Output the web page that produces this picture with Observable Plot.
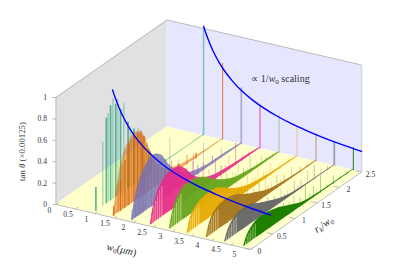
<!DOCTYPE html>
<html><head><meta charset="utf-8">
<script src="https://cdn.jsdelivr.net/npm/d3@7"></script>
<script src="https://cdn.jsdelivr.net/npm/@observablehq/plot@0.6"></script>
<style>html,body{margin:0;padding:0;background:#fff}svg{display:block}</style>
</head><body><div id="c"></div>
<script>
// ---- data
const w0Values=[0.94,1.43,1.91,2.39,2.88,3.34,3.83,4.3,4.79];
const wallTops=[1.0,0.72,0.53,0.395,0.36,0.288,0.26,0.225,0.213];
const curveW=[0.94,1,1.1,1.2,1.35,1.5,1.7,1.9,2.2,2.5,2.8,3.2,3.6,4,4.5,5];
const curveZ=[1.02,0.96,0.873,0.8,0.711,0.64,0.565,0.505,0.436,0.384,0.343,0.3,0.267,0.24,0.213,0.192];
const envR=[0.03,0.1,0.2,0.3,0.4,0.55,0.7,0.85,1,1.15,1.3,1.5,1.75,2,2.25,2.5];
const env1=[null,null,null,null,null,null,null,null,null,null,null,0.012,0.012,0.01,0.01,0.008];
const env2=[0,0.2,0.42,0.54,0.6,0.64,0.58,0.4,0.22,0.13,0.08,0.05,0.03,0.02,0.015,0.01];
const env3=[0,0.18,0.32,0.4,0.45,0.47,0.42,0.3,0.2,0.13,0.08,0.05,0.03,0.025,0.02,0.012];
const env4=[0,0.16,0.27,0.33,0.36,0.37,0.35,0.28,0.18,0.12,0.08,0.05,0.035,0.025,0.02,0.012];
const env5=[0,0.14,0.24,0.29,0.31,0.31,0.29,0.25,0.19,0.14,0.1,0.06,0.04,0.025,0.02,0.012];
const env6=[0,0.13,0.19,0.22,0.235,0.24,0.23,0.19,0.14,0.1,0.07,0.045,0.03,0.02,0.015,0.01];
const env7=[0,0.12,0.19,0.22,0.23,0.23,0.21,0.17,0.13,0.1,0.07,0.04,0.025,0.016,0.01,0.008];
const env8=[0,0.09,0.15,0.18,0.19,0.19,0.165,0.13,0.1,0.07,0.045,0.025,0.016,0.012,0.008,0.006];
const env9=[0,0.08,0.13,0.16,0.17,0.165,0.15,0.13,0.1,0.07,0.04,0.022,0.014,0.012,0.01,0.008];
const spikeR1=[0.075,0.23,0.31,0.35,0.405,0.457,0.52,0.565,0.63,0.705,0.8,0.856,0.93,1.03,1.12,1.22,1.3];
const spikeZ1=[0.22,0.6,0.8,0.83,0.89,0.94,0.87,0.9,0.79,0.82,0.62,0.55,0.52,0.5,0.34,0.3,0.2];
const spikeR2=[0.05,0.15,0.2,0.25,0.3,0.35,0.39,0.45,0.5,0.54,0.58,0.62,0.66,0.7,0.73,0.78,0.83,0.9,0.97,1.05,1.2,1.35,1.5,1.7,1.9];
const spikeZ2=[0.09,0.28,0.3,0.42,0.45,0.52,0.58,0.6,0.62,0.6,0.62,0.6,0.62,0.56,0.55,0.45,0.4,0.3,0.22,0.18,0.1,0.14,0.07,0.09,0.05];
const spikeR3=[0.04,0.08,0.12,0.15,0.18,0.21,0.24,0.27,0.3,0.33,0.36,0.42,0.48,0.55,0.62,0.7,0.79,0.89,1.0,1.1,1.25,1.4,1.52,1.65,1.85,2.05];
const spikeZ3=[0.1,0.14,0.16,0.2,0.22,0.27,0.3,0.33,0.36,0.38,0.4,0.42,0.46,0.44,0.42,0.4,0.36,0.53,0.2,0.26,0.12,0.16,0.09,0.26,0.08,0.1];
const spikeR4=[0.06,0.1,0.14,0.18,0.22,0.27,0.35,0.5,0.7,0.85,1.0,1.12,1.22,1.35,1.5,1.62,1.72,1.8,1.95,2.1,2.25];
const spikeZ4=[0.1,0.14,0.16,0.22,0.24,0.3,0.34,0.38,0.37,0.3,0.39,0.18,0.24,0.14,0.2,0.1,0.07,0.13,0.21,0.06,0.04];
const spikeR5=[0.05,0.08,0.12,0.17,0.23,0.6,0.8,0.95,1.02,1.08,1.2,1.26,1.32,1.45,1.52,1.58,1.7,1.78,1.85,2.0,2.1,2.2,2.35];
const spikeZ5=[0.08,0.1,0.14,0.18,0.24,0.33,0.27,0.22,0.16,0.2,0.26,0.13,0.15,0.12,0.09,0.2,0.09,0.07,0.16,0.07,0.09,0.05,0.04];
const spikeR6=[0.05,0.08,0.12,0.17,0.22,0.7,0.9,1.02,1.08,1.15,1.25,1.32,1.38,1.5,1.56,1.62,1.75,1.82,1.9,2.1,2.3];
const spikeZ6=[0.07,0.1,0.13,0.16,0.19,0.26,0.2,0.18,0.12,0.23,0.13,0.09,0.19,0.1,0.08,0.17,0.08,0.06,0.12,0.06,0.04];
const spikeR7=[0.05,0.09,0.13,0.18,0.75,0.95,1.1,1.16,1.22,1.36,1.42,1.5,1.62,1.7,1.78,1.95,2.15,2.3];
const spikeZ7=[0.07,0.1,0.13,0.15,0.24,0.18,0.15,0.09,0.17,0.21,0.08,0.09,0.13,0.07,0.08,0.11,0.05,0.04];
const spikeR8=[0.05,0.1,0.15,0.85,1.0,1.08,1.15,1.3,1.38,1.45,1.6,1.68,1.75,1.9,2.05,2.2,2.35];
const spikeZ8=[0.05,0.08,0.11,0.17,0.14,0.08,0.11,0.13,0.06,0.07,0.12,0.06,0.08,0.13,0.135,0.05,0.04];
const spikeR9=[0.62,0.8,0.93,1.05,1.1,1.16,1.3,1.36,1.42,1.52,1.6,1.68,1.76,1.9,2.05,2.2,2.35];
const spikeZ9=[0.19,0.17,0.15,0.12,0.08,0.15,0.09,0.06,0.18,0.07,0.11,0.05,0.165,0.05,0.08,0.04,0.03];
const gapR=[0.07,0.11,0.15,0.19,0.24,0.29];
const wTicks=[0,0.5,1,1.5,2,2.5,3,3.5,4,4.5,5];
const wTickLabels=["0","0.5","1","1.5","2","2.5","3","3.5","4","4.5","5"];
const rTicks=[0,0.5,1,1.5,2,2.5];
const rTickLabels=["0","0.5","1","1.5","2","2.5"];
const zTicks=[0,0.2,0.4,0.6,0.8,1];
const zTickLabels=["0","0.2","0.4","0.6","0.8","1"];
const W=5,R=2.5;

// ---- styles
const colors=["#1b9e77","#d95f02","#7570b3","#e7298a","#66a61e","#e6ab02","#a6761d","#666666","#1f8000"];
const wallW=[1.6,0.9,1.8,0.9,0.9,0.9,0.9,1.8,1];
const wallO=[0.5,0.9,0.5,0.95,0.55,0.5,0.75,0.55,1];
const areaO=[0.5,0.5,0.8,0.92,0.96,0.96,0.96,0.96,1];
const spikeW=[1.7,1.4,1.1,0.9,0.9,0.9,0.9,0.9,0.9];
const spikeHi=[0.72,0.8,0.55,0.45,0.42,0.42,0.42,0.42,0.42];
const spikeLo=[0.32,0.4,0.3,0.3,0.28,0.28,0.28,0.28,0.28];
const serif='"Liberation Serif",serif';

// ---- oblique view of (w0, rk, tan)
const px=(w,r)=>55.5+38.9*w+44.4*r;
const py=(w,r,z)=>z==null?NaN:204+9*w-31*r-107*z;

const envs=[env1,env2,env3,env4,env5,env6,env7,env8,env9];
const spikesR=[spikeR1,spikeR2,spikeR3,spikeR4,spikeR5,spikeR6,spikeR7,spikeR8,spikeR9];
const spikesZ=[spikeZ1,spikeZ2,spikeZ3,spikeZ4,spikeZ5,spikeZ6,spikeZ7,spikeZ8,spikeZ9];
const envAt=(s,r)=>{const j=d3.bisectLeft(envR,r);const a=envs[s][j-1],b=envs[s][j];return a+(b-a)*(r-envR[j-1])/(envR[j]-envR[j-1]);};

const panel=(a,fill)=>Plot.area([0,1],{x1:t=>a(t).x1,y1:t=>a(t).y1,x2:t=>a(t).x2,y2:t=>a(t).y2,fill,curve:"linear"});
const seg=(pts,o)=>Plot.link([pts],{x1:p=>px(p[0],p[1]),y1:p=>py(p[0],p[1],p[2]),x2:p=>px(p[3],p[4]),y2:p=>py(p[3],p[4],p[5]),...o});
const edge={stroke:"#bdbdbd",strokeWidth:1};

const marks=[
  panel(t=>({x1:px(0,R*t),y1:py(0,R*t,0),x2:px(0,R*t),y2:py(0,R*t,1)}),"#e1e1e1"),
  panel(t=>({x1:px(W*t,R),y1:py(W*t,R,0),x2:px(W*t,R),y2:py(W*t,R,1)}),"#e6e6ff"),
  panel(t=>({x1:px(W*t,0),y1:py(W*t,0,0),x2:px(W*t,R),y2:py(W*t,R,0)}),"#ffffcc"),
  seg([0,0,1,0,R,1],edge), seg([0,R,1,W,R,1],edge), seg([0,0,0,0,0,1],edge),
  seg([W,R,0,W,R,1],{stroke:"#d9d9e8",strokeWidth:1.8}),
  seg([0,0,0,W,0,0],edge), seg([W,0,0,W,R,0],edge),
  Plot.link(zTicks,{x1:()=>px(0,0)-3.5,y1:z=>py(0,0,z),x2:()=>px(0,0),y2:z=>py(0,0,z),stroke:"#a0a0a0",strokeWidth:0.7}),
  Plot.link(wTicks,{x1:w=>px(w,0),y1:w=>py(w,0,0),x2:w=>px(w,0.06),y2:w=>py(w,0.06,0),stroke:"#a0a0a0",strokeWidth:0.7}),
  Plot.link(rTicks,{x1:r=>px(W,r),y1:r=>py(W,r,0),x2:r=>px(W-0.15,r),y2:r=>py(W-0.15,r,0),stroke:"#a0a0a0",strokeWidth:0.7}),
  ...w0Values.map((w,i)=>Plot.link([w],{x1:px(w,R),y1:py(w,R,0),x2:px(w,R),y2:py(w,R,wallTops[i]),stroke:colors[i],strokeWidth:wallW[i],strokeOpacity:wallO[i]})),
  Plot.line(curveW.map((w,i)=>i),{x:i=>px(curveW[i],R),y:i=>py(curveW[i],R,curveZ[i]),stroke:"#0000ff",strokeWidth:1.4,curve:"catmull-rom"}),
  ...w0Values.flatMap((w,s)=>[
    Plot.area(envR.map((r,i)=>i),{x1:i=>px(w,envR[i]),y1:i=>py(w,envR[i],0),x2:i=>px(w,envR[i]),y2:i=>py(w,envR[i],envs[s][i]),fill:colors[s],fillOpacity:areaO[s],curve:"catmull-rom"}),
    ...(s>=3?[Plot.link(gapR,{x1:r=>px(w,r),y1:r=>py(w,r,0),x2:r=>px(w,r),y2:r=>py(w,r,envAt(s,r)*0.9),stroke:"#ffffcc",strokeWidth:0.8,strokeOpacity:0.6})]:[]),
    ...[0,1].map(p=>Plot.link(spikesR[s].map((r,i)=>i).filter(i=>i%2===p),{x1:i=>px(w,spikesR[s][i]),y1:i=>py(w,spikesR[s][i],0),x2:i=>px(w,spikesR[s][i]),y2:i=>py(w,spikesR[s][i],spikesZ[s][i]),stroke:colors[s],strokeWidth:spikeW[s],strokeOpacity:p?spikeLo[s]:spikeHi[s]}))
  ]),
  Plot.line(curveW.map((w,i)=>i),{x:i=>px(curveW[i],0.45),y:i=>py(curveW[i],0.45,curveZ[i]),stroke:"#0000ff",strokeWidth:1.4,curve:"catmull-rom"}),
  Plot.text(wTicks,{x:w=>49+37*w,y:w=>210+8.75*w,text:(w,i)=>wTickLabels[i],fontSize:7.6,fontFamily:serif,fill:"#333"}),
  Plot.text(rTicks,{x:r=>259+44.4*r,y:r=>251.3-31*r,text:(r,i)=>rTickLabels[i],fontSize:7.6,fontFamily:serif,fill:"#333"}),
  Plot.text(zTicks,{x:()=>46.5,y:z=>py(0,0,z),text:(z,i)=>zTickLabels[i],textAnchor:"end",fontSize:7.6,fontFamily:serif,fill:"#333"}),
  Plot.text(["w0(μm)"],{x:()=>121,y:()=>249,text:d=>d,rotate:12,fontSize:10.5,fontFamily:serif,fill:"#333"}),
  Plot.text(["rk/w0"],{x:()=>323,y:()=>224,text:d=>d,rotate:-35,fontSize:10.5,fontFamily:serif,fill:"#333"}),
  Plot.text(["tan θ (×0.00125)"],{x:()=>22,y:()=>151,text:d=>d,rotate:-90,fontSize:8.8,fontFamily:serif,fill:"#333"}),
  Plot.text(["∝ 1/w0 scaling"],{x:()=>280,y:()=>78.7,text:d=>d,fontSize:10,fontFamily:serif,fill:"#333"})
];

const svg=Plot.plot({
  width:415,height:277,margin:0,
  x:{domain:[0,415],range:[0,415],axis:null},
  y:{domain:[0,277],range:[0,277],axis:null},
  marks
});
// math type: italic symbols and real subscripts
const it=s=>`<tspan font-style="italic">${s}</tspan>`;
const sub=(s,f)=>`<tspan dy="2" font-size="${f}">${s}</tspan>`;
const up=s=>`<tspan dy="-2">${s}</tspan>`;
const math={
  "w0(μm)":it("w")+sub("0",7)+up("(")+it("μm")+")",
  "rk/w0":it("r")+sub(it("k"),7)+up("/")+it("w")+sub("0",7),
  "tan θ (×0.00125)":"tan "+it("θ")+" (×0.00125)",
  "∝ 1/w0 scaling":"∝ 1/"+it("w")+sub("0",7)+up(" scaling")
};
svg.querySelectorAll("text").forEach(t=>{const m=math[t.textContent];if(m)t.innerHTML=m;});
document.getElementById("c").append(svg);
</script></body></html>
